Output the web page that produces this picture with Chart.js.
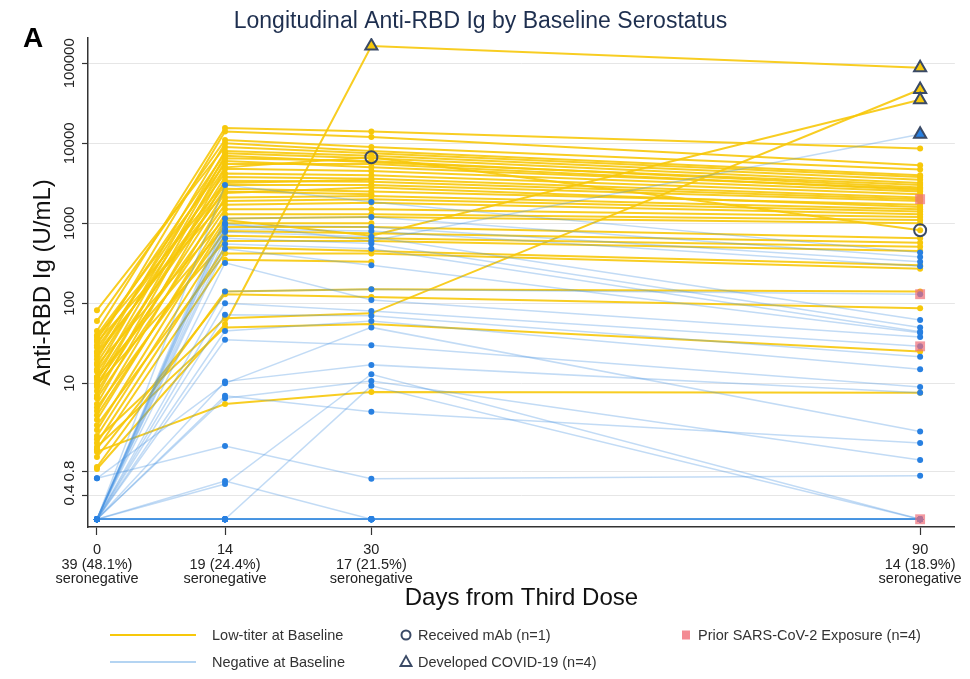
<!DOCTYPE html>
<html>
<head>
<meta charset="utf-8">
<script src="https://cdn.jsdelivr.net/npm/chart.js@4.4.1/dist/chart.umd.min.js"></script>
<style>
  body { margin: 0; background: #fff; }
  #wrap { position: relative; width: 970px; height: 679px; font-family: "Liberation Sans", Arial, sans-serif; }
  #panel { position: absolute; left: 23px; top: 24px; font-weight: bold; font-size: 28px; line-height: 1; color: #000; }
  .leg { position: absolute; }
  .txt { font-size: 14.5px; color: #333; line-height: 1; transform: translateY(-50%); white-space: nowrap; }
  .mark { transform: translate(-50%, -50%); }
</style>
</head>
<body>
<div id="wrap">
  <canvas id="grafico" width="970" height="679"></canvas>
  <div id="panel">A</div>

  <!-- legenda: 3 colunas, 2 linhas -->
  <div class="leg" style="left:110px; top:634px; width:86px; height:2px; background:rgb(247,200,10)"></div>
  <div class="leg txt" style="left:212px; top:635px">Low-titer at Baseline</div>
  <div class="leg" style="left:110px; top:661px; width:86px; height:2px; background:rgb(180,212,242)"></div>
  <div class="leg txt" style="left:212px; top:662px">Negative at Baseline</div>

  <svg class="leg mark" style="left:406px; top:635px" width="14" height="14"><circle cx="7" cy="7" r="4.5" fill="none" stroke="#3a4a66" stroke-width="2"/></svg>
  <div class="leg txt" style="left:418px; top:635px">Received mAb (n=1)</div>
  <svg class="leg mark" style="left:406px; top:661px" width="14" height="14"><polygon points="7,2 12.5,12 1.5,12" fill="none" stroke="#3a4a66" stroke-width="1.8"/></svg>
  <div class="leg txt" style="left:418px; top:662px">Developed COVID-19 (n=4)</div>

  <div class="leg mark" style="left:686px; top:635px; width:8px; height:9px; background:rgba(240,110,120,0.8)"></div>
  <div class="leg txt" style="left:698px; top:635px">Prior SARS-CoV-2 Exposure (n=4)</div>
</div>

<script>
// Dias das coletas (eixo x) e rótulos
const days = [0, 14, 30, 90]
const dayTickLabels = ['0', '14', '30', '90']
const seronegativeCounts = ['39 (48.1%)', '19 (24.4%)', '17 (21.5%)', '14 (18.9%)']

// Marcas do eixo y (U/mL)
const yTickValues = [0.4, 0.8, 10, 100, 1000, 10000, 100000]
const yTickLabels = ['0.4', '0.8', '10', '100', '1000', '10000', '100000']

// Cada linha = um participante: [dia 0, dia 14, dia 30, dia 90] (null = sem coleta)
const lowTiterSubjects = [
    [45, 15500, 14000, 8600],
    [30, 14000, 12000, 5300],
    [60, 11000, 9000, 4700],
    [20, 10000, 8000, 4000],
    [82, 9000, 7500, 3800],
    [15, 8000, 7000, 3500],
    [35, 7500, 6500, 3200],
    [12, 7000, 5800, 3000],
    [25, 6500, 6000, 2800],
    [9, 6000, 5000, 2700],
    [40, 5500, 5500, 2600],
    [18, 5000, 6700, 820],
    [7, 4800, 4500, 2500],
    [28, 4200, 4000, 2300],
    [11, 3800, 3600, 2100],
    [5.5, 3400, 3300, 2000],
    [22, 3000, 3000, 1900],
    [14, 2700, 2500, 1700],
    [8, 2400, 2800, 1600],
    [4.5, 2100, 2200, 1500],
    [33, 1900, 2000, 1400],
    [10, 1700, 1800, 1300],
    [6.5, 1500, 1500, 1200],
    [3.5, 1300, 1300, 1100],
    [17, 1150, 1200, 1000],
    [2.6, 1000, 1000, null],
    [12, 900, 900, 650],
    [5, 800, 750, 570],
    [2.2, 700, 650, 510],
    [9.5, 600, 600, 450],
    [1.8, 500, 450, 300],
    [3, 420, 420, 270],
    [1.5, 350, 330, null],
    [0.9, 140, 150, 140],
    [1.2, 130, 120, 87],
    [2, 65, 75, 47000],
    [0.85, 55, 164000, 88000],
    [1.6, 50, 55, 25],
    [1.4, 5.5, 7.8, 7.6],
    [4, 1100, 700, 35000],
    [24, 2500, 2300, null],
    [38, 3200, 3500, null]
]

const negativeSubjects = [
    [0.2, 3000, 1850, 430],
    [0.2, 1000, 600, 13000],
    [0.2, 1150, 1200, 380],
    [0.2, 950, 900, 330],
    [0.2, 850, 800, 290],
    [0.2, 780, 680, 62],
    [0.2, 650, 560, 50],
    [0.2, 550, 480, 44],
    [0.2, 480, 300, 43],
    [0.2, 320, 110, 38],
    [0.2, 100, 80, 29],
    [0.2, 72, 70, 21.5],
    [0.2, 45, 60, 15],
    [0.2, 35, 30, 9],
    [0.2, 10.5, 17, 7.6],
    [0.65, 10, 50, 2.5],
    [0.2, 7, 4.4, 1.8],
    [0.2, 6.5, 10.7, 1.1],
    [0.65, 1.65, 0.64, 0.7],
    [0.2, 0.6, 0.2, 0.2],
    [0.2, 0.55, 13, 0.2],
    [0.2, 0.2, 9.3, 0.2],
    [0.2, 0.2, 0.2, 0.2],
    [0.2, 140, 150, 130],
    [0.2, 0.2, 0.2, 0.2],
    [0.2, 0.2, 0.2, 0.2],
    [0.2, 0.2, 0.2, 0.2],
    [0.2, 0.2, 0.2, 0.2],
    [0.2, 0.2, 0.2, 0.2],
    [0.2, 0.2, 0.2, 0.2],
    [0.2, 0.2, 0.2, 0.2],
    [0.2, 0.2, 0.2, 0.2],
    [0.2, 0.2, 0.2, 0.2],
    [0.2, 0.2, 0.2, 0.2],
    [0.2, 0.2, 0.2, 0.2],
    [0.2, 0.2, 0.2, null],
    [0.2, 0.2, null, 0.2],
    [0.2, null, 0.2, 0.2],
    [0.2, 0.2, 0.2, 0.2]
]

// Marcadores especiais: tipo, grupo, índice do participante, dia
const markerType = ['mab', 'mab', 'covid', 'covid', 'covid', 'covid', 'covid', 'prior', 'prior', 'prior', 'prior']
const markerGroup = ['low', 'low', 'low', 'low', 'low', 'low', 'neg', 'low', 'neg', 'neg', 'neg']
const markerSubject = [11, 11, 35, 36, 36, 39, 1, 15, 10, 22, 23]
const markerDay = [30, 90, 90, 30, 90, 90, 90, 90, 90, 90, 90]

const yellowLine = 'rgba(247, 200, 10, 0.9)'
const yellowPoint = 'rgb(247, 200, 10)'
const blueLine = 'rgba(70, 145, 225, 0.33)'
const bluePoint = 'rgb(40, 128, 225)'
const markerEdge = '#3a4a66'

Chart.defaults.font.family = '"Liberation Sans", Arial, sans-serif'

// Converte uma linha do participante em pontos {x, y}
function toPoints(row) {
    let pts = []
    for (let i = 0; i < days.length; i++) {
        if (row[i] !== null) pts.push({x: days[i], y: row[i]})
    }
    return pts
}

let datasets = []
lowTiterSubjects.forEach(row => {
    datasets.push({
        data: toPoints(row),
        borderColor: yellowLine,
        backgroundColor: yellowPoint,
        borderWidth: 2,
        pointRadius: 3,
        pointBorderWidth: 0,
        tension: 0,
        order: 3
    })
})
negativeSubjects.forEach(row => {
    datasets.push({
        data: toPoints(row),
        borderColor: blueLine,
        backgroundColor: bluePoint,
        borderWidth: 1.5,
        pointRadius: 3,
        pointBorderWidth: 0,
        tension: 0,
        order: 2
    })
})

// Monta um dataset de marcadores (sem linha) para cada tipo
function markerDataset(tipo, style) {
    let pts = []
    let fills = []
    for (let i = 0; i < markerType.length; i++) {
        if (markerType[i] !== tipo) continue
        const rows = markerGroup[i] === 'low' ? lowTiterSubjects : negativeSubjects
        const d = days.indexOf(markerDay[i])
        pts.push({x: markerDay[i], y: rows[markerSubject[i]][d]})
        fills.push(markerGroup[i] === 'low' ? yellowPoint : bluePoint)
    }
    return Object.assign({data: pts, showLine: false, order: 0}, style(fills))
}

datasets.push(markerDataset('mab', () => ({
    pointStyle: 'circle', pointRadius: 6, pointBorderWidth: 2,
    pointBorderColor: markerEdge, pointBackgroundColor: 'rgba(0,0,0,0)'
})))
datasets.push(markerDataset('covid', fills => ({
    pointStyle: 'triangle', pointRadius: 7, pointBorderWidth: 2,
    pointBorderColor: markerEdge, pointBackgroundColor: fills
})))
datasets.push(markerDataset('prior', () => ({
    pointStyle: 'rect', pointRadius: 7, pointBorderWidth: 0,
    pointBackgroundColor: 'rgba(240, 110, 120, 0.7)'
})))

const config = {
    type: 'line',
    data: { datasets: datasets },
    options: {
        responsive: false,
        animation: false,
        events: [],
        layout: { padding: { left: 0, right: 9, top: 0, bottom: 66 } },
        plugins: {
            legend: { display: false },
            tooltip: { enabled: false },
            title: {
                display: true,
                text: 'Longitudinal Anti-RBD Ig by Baseline Serostatus',
                color: '#1e2f4f',
                font: { size: 23, weight: 'normal' },
                padding: { top: 8, bottom: 2.4 }
            }
        },
        scales: {
            x: {
                type: 'linear',
                min: -0.98,
                max: 93.8,
                afterBuildTicks: scale => { scale.ticks = days.map(d => ({value: d})) },
                afterFit: scale => { scale.height = 86 },
                ticks: {
                    autoSkip: false,
                    maxRotation: 0,
                    color: '#222',
                    padding: 8,
                    font: { size: 14.5, lineHeight: 1 },
                    callback: (value, index) => [dayTickLabels[index], seronegativeCounts[index], 'seronegative']
                },
                grid: { drawOnChartArea: false, tickLength: 8, tickColor: '#333', tickWidth: 1.2 },
                border: { color: '#333', width: 1.5 },
                title: {
                    display: true,
                    text: 'Days from Third Dose',
                    color: '#111',
                    font: { size: 24 },
                    padding: { top: 0, bottom: 0 }
                }
            },
            y: {
                type: 'logarithmic',
                min: 0.16,
                max: 207000,
                afterBuildTicks: scale => { scale.ticks = yTickValues.map(v => ({value: v})) },
                afterFit: scale => { scale.width = 88 },
                ticks: {
                    autoSkip: false,
                    minRotation: 90,
                    maxRotation: 90,
                    crossAlign: 'center',
                    padding: -13,
                    color: '#222',
                    font: { size: 15 },
                    callback: (value, index) => yTickLabels[index]
                },
                grid: { color: '#e6e6e6', lineWidth: 1, tickColor: '#333', tickLength: 6, tickWidth: 1.2 },
                border: { color: '#333', width: 1.5 },
                title: {
                    display: true,
                    text: 'Anti-RBD Ig (U/mL)',
                    color: '#111',
                    font: { size: 24 },
                    padding: { top: 29, bottom: 0 }
                }
            }
        }
    }
}

new Chart(document.getElementById('grafico').getContext('2d'), config)
</script>
</body>
</html>
